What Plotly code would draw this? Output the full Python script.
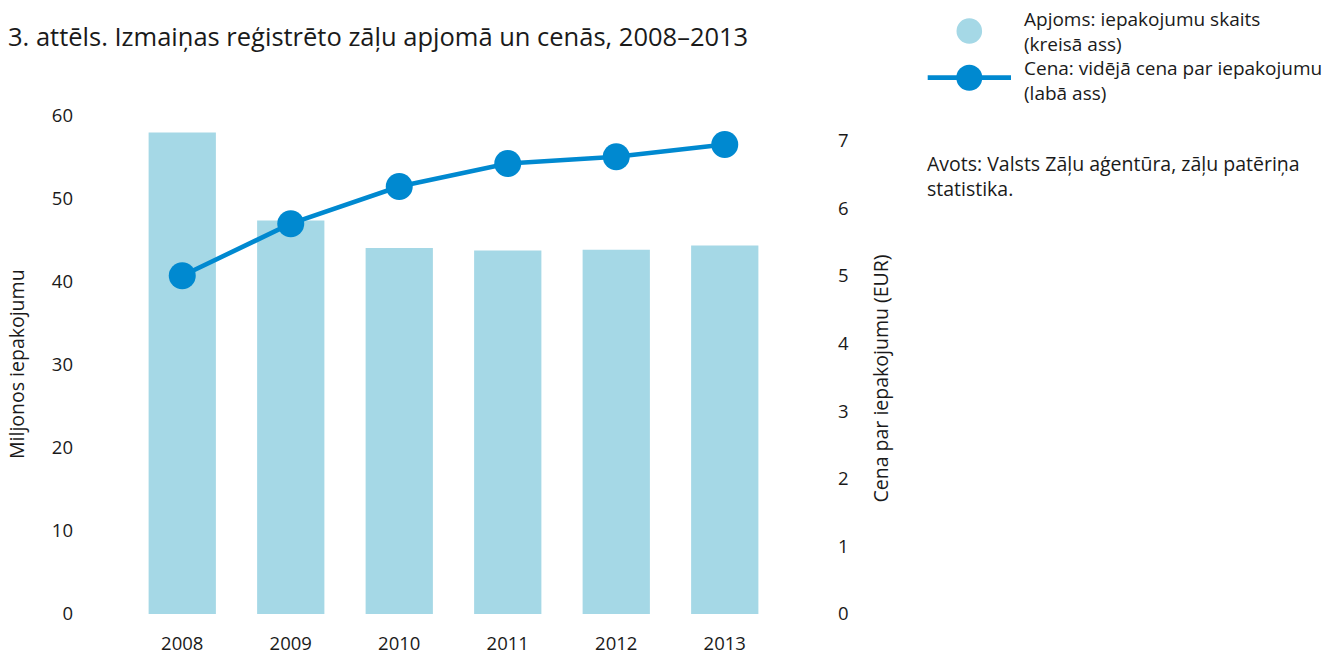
import plotly.graph_objects as go

years = ["2008", "2009", "2010", "2011", "2012", "2013"]
volume = [58.0, 47.4, 44.1, 43.8, 43.9, 44.4]   # millions of packages (left axis)
price = [5.00, 5.77, 6.32, 6.66, 6.76, 6.94]     # EUR per package (right axis)

title_text = "3. attēls. Izmaiņas reģistrēto zāļu apjomā un cenās, 2008–2013"
left_title = "Miljonos iepakojumu"
right_title = "Cena par iepakojumu (EUR)"
legend_bar = ["Apjoms: iepakojumu skaits", "(kreisā ass)"]
legend_line = ["Cena: vidējā cena par iepakojumu", "(labā ass)"]
source_lines = ["Avots: Valsts Zāļu aģentūra, zāļu patēriņa", "statistika."]

BAR_COLOR = "#A5D8E6"
LINE_COLOR = "#0089D0"
TEXT = "#1a1a1a"
FONT = "Open Sans"

W, H = 1330, 654
ML, MR, MT, MB = 128, 551, 116, 40
PW = W - ML - MR
PH = H - MT - MB


def px(x):
    """screen x -> paper x"""
    return (x - ML) / PW


def py(y):
    """screen y -> paper y"""
    return (H - MB - y) / PH


fig = go.Figure()
fig.add_trace(go.Bar(x=years, y=volume, marker=dict(color=BAR_COLOR, line=dict(width=0)),
                     width=0.62, yaxis="y", showlegend=False))
fig.add_trace(go.Scatter(x=years, y=price, mode="lines+markers", yaxis="y2",
                         line=dict(color=LINE_COLOR, width=4.6),
                         marker=dict(color=LINE_COLOR, size=27), showlegend=False))

fig.update_layout(
    width=W, height=H,
    margin=dict(l=ML, r=MR, t=MT, b=MB, pad=0, autoexpand=False),
    paper_bgcolor="white", plot_bgcolor="white",
    font=dict(family=FONT, color=TEXT, size=18.5),
    xaxis=dict(type="category", range=[-0.5, 5.5], showgrid=False, showline=False,
               zeroline=False, ticks="", ticklabelstandoff=16, automargin=False,
               tickfont=dict(size=18.5)),
    yaxis=dict(range=[0, 60], dtick=10, showgrid=False, showline=False, zeroline=False,
               ticks="", ticklabelstandoff=54, automargin=False, tickfont=dict(size=18.5)),
    yaxis2=dict(range=[0, 7.362], dtick=1, overlaying="y", side="right", showgrid=False,
                showline=False, zeroline=False, ticks="", ticklabelstandoff=58,
                automargin=False, tickfont=dict(size=18.5)),
)

ann = []
ann.append(dict(text=title_text, x=px(6), y=py(36), xref="paper", yref="paper",
                xanchor="left", yanchor="middle", showarrow=False,
                font=dict(size=25.5, color=TEXT)))
ann.append(dict(text=left_title, x=px(16), y=py(364), xref="paper", yref="paper",
                xanchor="center", yanchor="middle", textangle=-90, showarrow=False,
                font=dict(size=19.5, color=TEXT)))
ann.append(dict(text=right_title, x=px(880), y=py(378.5), xref="paper", yref="paper",
                xanchor="center", yanchor="middle", textangle=-90, showarrow=False,
                font=dict(size=19.5, color=TEXT)))
ann.append(dict(text="<br>".join(legend_bar + legend_line), x=px(1022), y=py(56),
                xref="paper", yref="paper", xanchor="left", yanchor="middle",
                align="left", showarrow=False, font=dict(size=19, color=TEXT)))
ann.append(dict(text="<br>".join(source_lines), x=px(925), y=py(176.5),
                xref="paper", yref="paper", xanchor="left", yanchor="middle",
                align="left", showarrow=False, font=dict(size=19.5, color=TEXT)))
fig.update_layout(annotations=ann)

shapes = [
    dict(type="circle", xref="paper", yref="paper", xsizemode="pixel", ysizemode="pixel",
         xanchor=px(969.3), yanchor=py(31), x0=-12.8, x1=12.8, y0=-12.8, y1=12.8,
         fillcolor=BAR_COLOR, line=dict(width=0)),
    dict(type="line", xref="paper", yref="paper", x0=px(927.7), x1=px(1011),
         y0=py(77.7), y1=py(77.7), line=dict(color=LINE_COLOR, width=4.7)),
    dict(type="circle", xref="paper", yref="paper", xsizemode="pixel", ysizemode="pixel",
         xanchor=px(969.3), yanchor=py(77.7), x0=-13, x1=13, y0=-13, y1=13,
         fillcolor=LINE_COLOR, line=dict(width=0)),
]
fig.update_layout(shapes=shapes)

fig.write_html("out.html", config={"displayModeBar": False},
               post_script="document.body.style.margin='0px';")
